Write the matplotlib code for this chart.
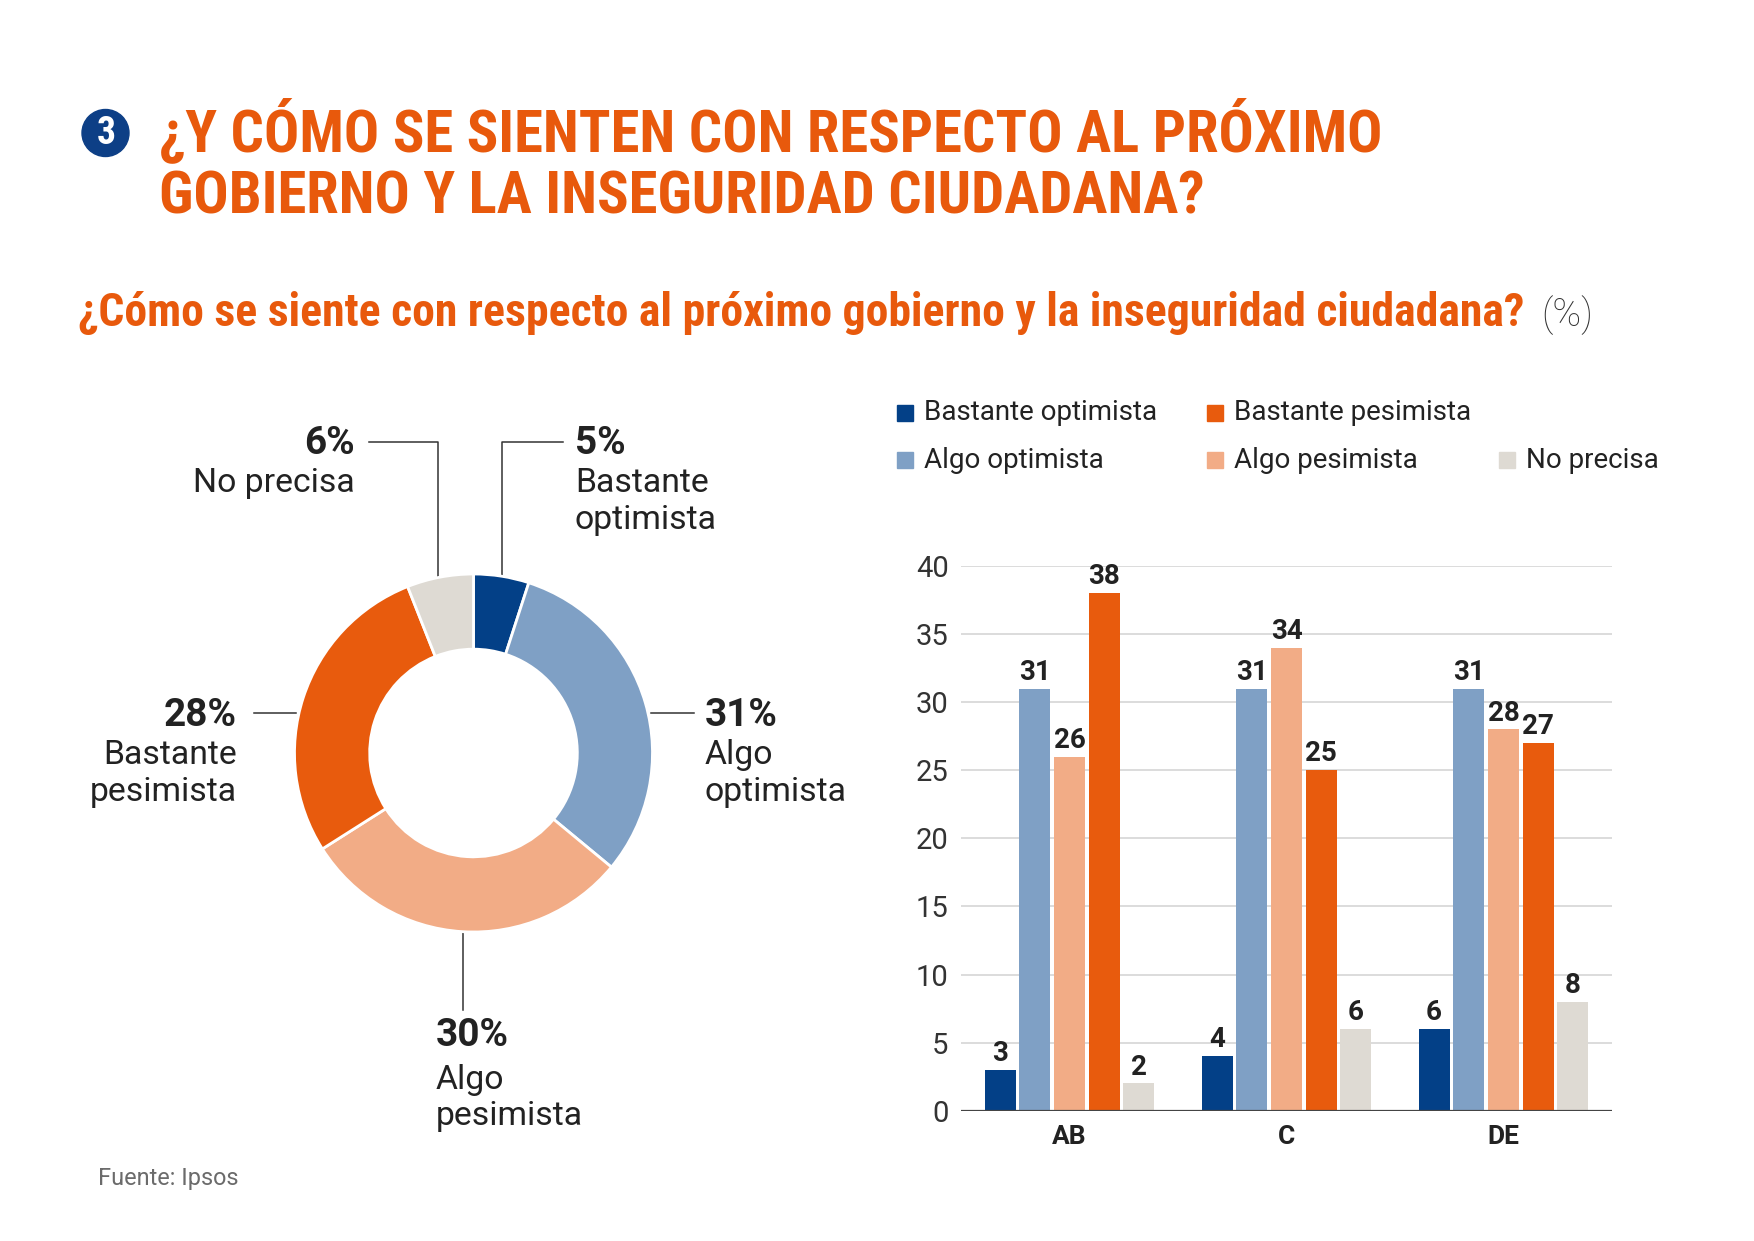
import matplotlib
matplotlib.use("Agg")
import matplotlib.pyplot as plt
from matplotlib.patches import Circle, Rectangle
from matplotlib import font_manager as fm
import numpy as np

# ---------------- data ----------------
donut_labels = ["Bastante optimista", "Algo optimista", "Algo pesimista", "Bastante pesimista", "No precisa"]
donut_values = [5, 31, 30, 28, 6]

groups = ["AB", "C", "DE"]
series_names = ["Bastante optimista", "Algo optimista", "Algo pesimista", "Bastante pesimista", "No precisa"]
bastante_optimista = [3, 4, 6]
algo_optimista = [31, 31, 31]
algo_pesimista = [26, 34, 28]
bastante_pesimista = [38, 25, 27]
no_precisa = [2, 6, 8]
yticks = [0, 5, 10, 15, 20, 25, 30, 35, 40]

title_lines = ["¿Y CÓMO SE SIENTEN CON RESPECTO AL PRÓXIMO", "GOBIERNO Y LA INSEGURIDAD CIUDADANA?"]
subtitle = "¿Cómo se siente con respecto al próximo gobierno y la inseguridad ciudadana?"
source = "Fuente: Ipsos"

# ---------------- style ----------------
COLORS = ["#034087", "#7FA0C5", "#F2AC86", "#E85B0D", "#DEDAD3"]
ORANGE = "#E8590C"
BADGE = "#0D3F86"
DARK = "#222222"


def pick(cands):
    for c in cands:
        try:
            fm.findfont(fm.FontProperties(family=c), fallback_to_default=False)
            return c
        except Exception:
            pass
    return "DejaVu Sans"


BODY = pick(["Roboto", "Open Sans", "Lato", "DejaVu Sans"])
COND = pick(["Liberation Sans Narrow", "Roboto Condensed", "Open Sans Condensed", "Roboto"])
plt.rcParams["font.family"] = [BODY, "DejaVu Sans"]

W, H = 1754, 1241
fig = plt.figure(figsize=(W / 100, H / 100), dpi=100)
fig.patch.set_facecolor("white")
renderer = fig.canvas.get_renderer()


def fit(t, target):
    w = t.get_window_extent(renderer).width
    if w > 0:
        t.set_fontsize(t.get_fontsize() * target / w)
    return t.get_fontsize()


# overlay axes in pixel coordinates
ax0 = fig.add_axes([0, 0, 1, 1])
ax0.set_xlim(0, W)
ax0.set_ylim(H, 0)
ax0.axis("off")

# badge + title
ax0.add_patch(Circle((105.5, 133), 23.5, color=BADGE, zorder=2))
ax0.text(106, 134, "3", color="white", fontsize=27, fontweight="bold",
         ha="center", va="center", family=[COND, "DejaVu Sans"], zorder=3)
t1 = ax0.text(159, 151, title_lines[0], color=ORANGE, fontsize=40, fontweight="bold",
              family=[COND, "DejaVu Sans"], ha="left", va="baseline")
fs = fit(t1, 1222)
ax0.text(159, 213, title_lines[1], color=ORANGE, fontsize=fs, fontweight="bold",
         family=[COND, "DejaVu Sans"], ha="left", va="baseline")

st = ax0.text(78, 326, subtitle, color=ORANGE, fontsize=26, fontweight="bold",
              family=[COND, "DejaVu Sans"], ha="left", va="baseline")
fit(st, 1450)
pct = ax0.text(1541, 326, "(%)", color="#333333", fontsize=26, fontweight="light",
               ha="left", va="baseline")
fit(pct, 52)

# ---------------- donut ----------------
CX, CY, R = 473.5, 753, 179
B = 200
axp = fig.add_axes([(CX - B) / W, (H - CY - B) / H, 2 * B / W, 2 * B / H])
axp.pie(donut_values, colors=COLORS, startangle=90, counterclock=False,
        wedgeprops=dict(width=0.42, edgecolor="white", linewidth=2))
axp.set_xlim(-B / R, B / R)
axp.set_ylim(-B / R, B / R)
axp.axis("off")

LINE = dict(color="#333333", lw=1.1, zorder=1)
# leaders (pixel layout)
ax0.plot([502, 502, 563], [577, 442, 442], **LINE)
ax0.plot([438, 438, 369], [578, 442, 442], **LINE)
ax0.plot([651, 694], [713, 713], **LINE)
ax0.plot([254, 296], [713, 713], **LINE)
ax0.plot([463, 463], [931, 1010], **LINE)

probe = ax0.text(0, -100, "No precisa", fontsize=24)
reg_fs = fit(probe, 162)
probe.remove()
probe = ax0.text(0, -100, "30%", fontsize=26, fontweight="bold")
bold_fs = fit(probe, 73)
probe.remove()


def dlabel(x, y0, pct_txt, lines, ha, gap=40, step=37):
    ax0.text(x, y0, pct_txt, fontsize=bold_fs, fontweight="bold", color=DARK, ha=ha, va="center")
    for k, ln in enumerate(lines):
        ax0.text(x, y0 + gap + step * k, ln, fontsize=reg_fs, color=DARK, ha=ha, va="center")


vals = {n: v for n, v in zip(donut_labels, donut_values)}
dlabel(575, 443, f"{vals['Bastante optimista']}%", ["Bastante", "optimista"], "left")
dlabel(355, 443, f"{vals['No precisa']}%", ["No precisa"], "right")
dlabel(705, 715, f"{vals['Algo optimista']}%", ["Algo", "optimista"], "left")
dlabel(237, 715, f"{vals['Bastante pesimista']}%", ["Bastante", "pesimista"], "right")
dlabel(436, 1036, f"{vals['Algo pesimista']}%", ["Algo", "pesimista"], "left", gap=44, step=36)

# ---------------- bars ----------------
x0, x1, yb, yt = 961, 1612, 1110.7, 566
axb = fig.add_axes([x0 / W, (H - yb) / H, (x1 - x0) / W, (yb - yt) / H])
series = [bastante_optimista, algo_optimista, algo_pesimista, bastante_pesimista, no_precisa]
x = np.arange(len(groups))
slot, bw = 0.16, 0.1425
for i, (vals_s, c) in enumerate(zip(series, COLORS)):
    bars = axb.bar(x + (i - 2) * slot, vals_s, width=bw, color=c, zorder=3, label=series_names[i])
    for rect, v in zip(bars, vals_s):
        axb.annotate(f"{v}", (rect.get_x() + rect.get_width() / 2, v), xytext=(0, 2),
                     textcoords="offset points", ha="center", va="bottom",
                     fontsize=20, fontweight="bold", color=DARK, zorder=4, annotation_clip=False)
axb.set_xlim(-0.5, 2.5)
axb.set_ylim(0, 40)
axb.set_yticks(yticks)
axb.set_yticklabels([str(v) for v in yticks], fontsize=21, fontweight="normal", color="#333333")
axb.set_xticks(x)
axb.set_xticklabels(groups, fontsize=19, fontweight="bold", color=DARK)
axb.tick_params(axis="both", length=0)
axb.tick_params(axis="y", pad=9)
axb.tick_params(axis="x", pad=10)
for s in axb.spines.values():
    s.set_visible(False)
axb.grid(axis="y", color="#D6D6D6", lw=1.2, zorder=0)
axb.axhline(0, color="#444444", lw=1.6, zorder=5)
axb.set_axisbelow(True)
axb.patch.set_alpha(0)

# legend (manual layout)
leg_pos = {
    "Bastante optimista": (897, 413),
    "Algo optimista": (897, 460),
    "Bastante pesimista": (1207, 413),
    "Algo pesimista": (1207, 460),
    "No precisa": (1499, 460),
}
probe = ax0.text(0, -100, "Bastante optimista", fontsize=20)
leg_fs = fit(probe, 233)
probe.remove()
for name, c in zip(series_names, COLORS):
    lx, ly = leg_pos[name]
    ax0.add_patch(Rectangle((lx, ly - 8), 16, 16, color=c))
    ax0.text(lx + 27, ly, name, fontsize=leg_fs, color=DARK, ha="left", va="center")

src = ax0.text(98, 1178, source, fontsize=16, color="#6B6B6B", ha="left", va="center")
fit(src, 141)

fig.savefig("out.png", dpi=100, facecolor="white")
